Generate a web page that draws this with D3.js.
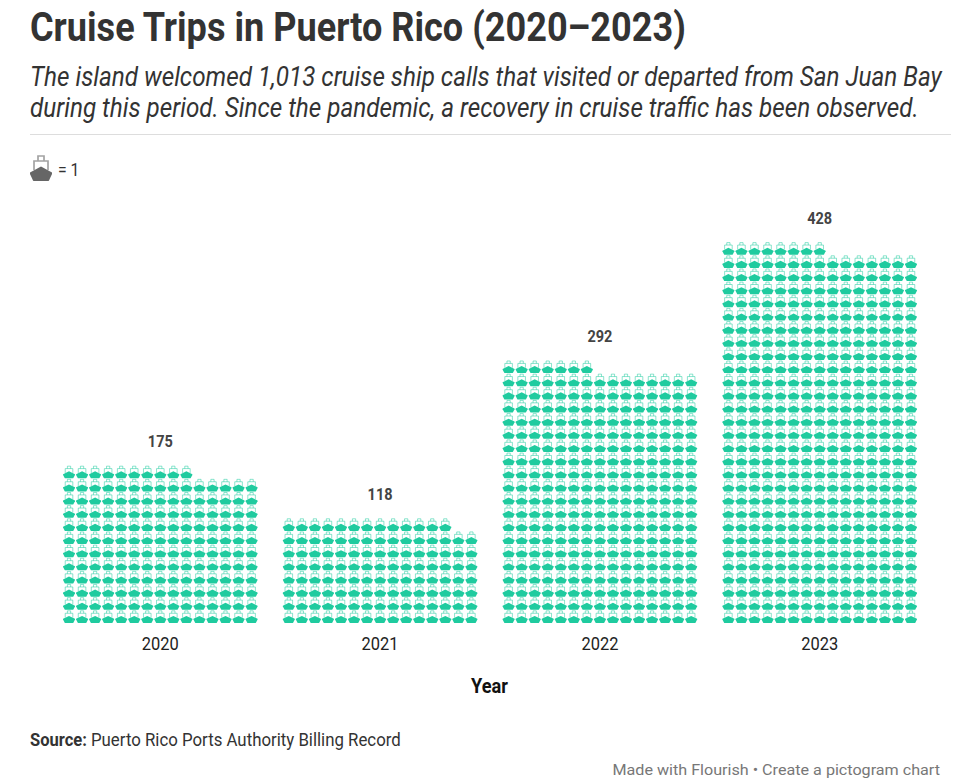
<!DOCTYPE html>
<html><head><meta charset="utf-8">
<script src="https://cdn.jsdelivr.net/npm/d3@7/dist/d3.min.js"></script>
<style>html,body{margin:0;padding:0;background:#fff;overflow:hidden}svg{display:block}text{font-family:Roboto,sans-serif}</style>
</head><body><svg id="c" width="960" height="784"></svg>
<script>
const years = ["2020","2021","2022","2023"];
const calls = [175,118,292,428];
const perRow = 15;
const titleText = "Cruise Trips in Puerto Rico (2020–2023)";
const subtitleLines = ["The island welcomed 1,013 cruise ship calls that visited or departed from San Juan Bay","during this period. Since the pandemic, a recovery in cruise traffic has been observed."];
const xAxisTitle = "Year";
const sourceLabel = "Source:";
const sourceText = "Puerto Rico Ports Authority Billing Record";
const footerText = "Made with Flourish • Create a pictogram chart";

const svg = d3.select("#c");
const ink = "#333333";
function txt(s,x,y,size,w,opts={}){
  const g = svg.append("g");
  const t = g.append("text").attr("font-size",size)
    .attr("font-weight",opts.weight||400).attr("font-style",opts.style||"normal")
    .attr("fill",opts.fill||ink).attr("text-anchor",opts.anchor||"start").text(s);
  const k = w/t.node().getComputedTextLength();
  g.attr("transform",`translate(${x},${y}) scale(${k},1)`);
  return t;
}
txt(titleText,30,41,40,656,{weight:700});
txt(subtitleLines[0],30,86,27,912,{style:"italic"});
txt(subtitleLines[1],30,117,27,889,{style:"italic"});
svg.append("line").attr("x1",30).attr("x2",951).attr("y1",134.5).attr("y2",134.5).attr("stroke","#dddddd");

const defs = svg.append("defs");
const ship = defs.append("symbol").attr("id","ship").attr("viewBox","0 0 24 26").attr("preserveAspectRatio","none").attr("overflow","visible");
ship.append("path").attr("fill","none").attr("stroke","currentColor").attr("stroke-width",1.7).attr("stroke-opacity",.6)
  .attr("d","M9,6V1H15V6M5,15V6H19V15");
ship.append("path").attr("fill","currentColor").attr("d","M1,17.5L12,11.5L23,17.5L23,19L20,25.5Q19.5,26 19,26H5Q4.5,26 4,25.5L1,19Z");

svg.append("use").attr("href","#ship").attr("x",29).attr("y",155).attr("width",24).attr("height",26).attr("color","#666666");
txt("= 1",58,176,19,21.5);

const x = d3.scaleBand().domain(years).range([62.5,917.5]).paddingInner(0.11).paddingOuter(0);
const col = d3.scaleLinear().domain([0,perRow]).range([0,x.bandwidth()]);
const rowH = 13.15;
const y = d3.scaleLinear().domain([0,1]).range([623,623-rowH]);
const iconW=13,iconH=12.6;

years.forEach((yr,i)=>{
  const cells = d3.range(calls[i]).map(k=>({c:k%perRow,r:Math.floor(k/perRow)}));
  svg.append("g").selectAll("use").data(cells).join("use")
    .attr("href","#ship").attr("width",iconW).attr("height",iconH)
    .attr("x",d=>x(yr)+col(d.c)+(col(1)-iconW)/2)
    .attr("y",d=>y(d.r+1)+0.5)
    .attr("color","#1fcb9f");
  const cx = x(yr)+x.bandwidth()/2;
  const rows = Math.ceil(calls[i]/perRow);
  txt(String(calls[i]),cx,y(rows)-18,16.5,25,{weight:700,anchor:"middle",fill:"#444444"});
  txt(yr,cx,650,18,37,{anchor:"middle",fill:"#222222"});
});
txt(xAxisTitle,489.5,693,20,37,{weight:700,anchor:"middle",fill:"#111111"});
txt(sourceLabel,30,746,18,57,{weight:700});
txt(sourceText,91,746,18,310);
txt(footerText,940,775,14.5,328,{anchor:"end",fill:"#777777"});
</script></body></html>
